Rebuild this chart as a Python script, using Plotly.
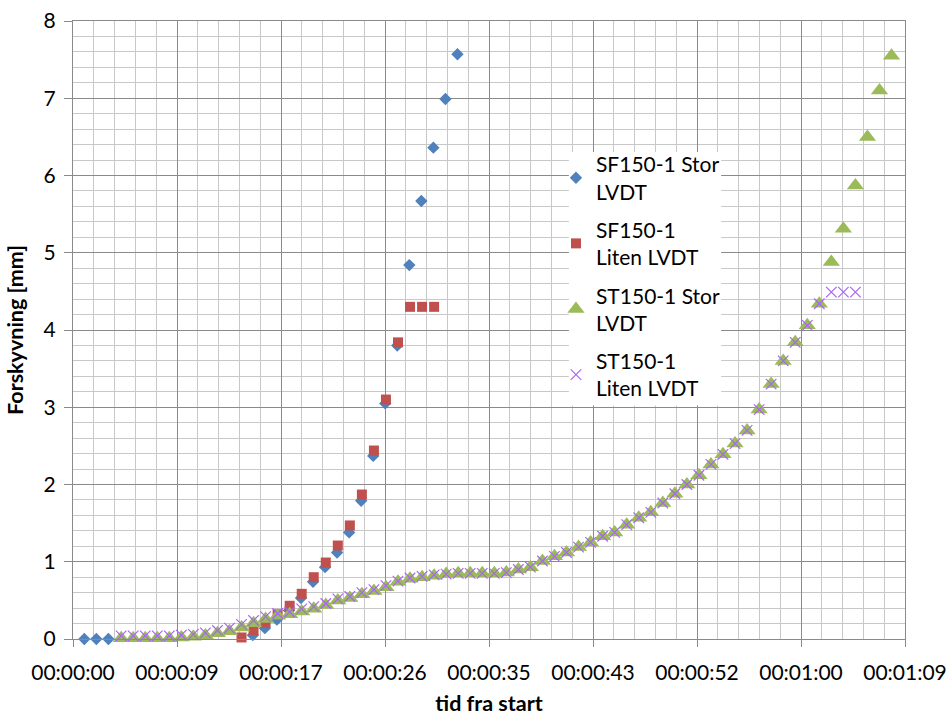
import plotly.graph_objects as go

# ---- data (time in seconds, displacement in mm) ----
sf_stor_t = [0.94, 1.94, 2.94, 3.94, 4.94, 5.94, 6.94, 7.94, 8.94, 9.94, 10.94, 11.94,
             12.94, 13.94, 14.94, 15.94, 16.94, 17.94, 18.94, 19.94, 20.94, 21.94,
             22.94, 23.94, 24.94, 25.94, 26.94, 27.94, 28.94, 29.94, 30.94, 31.94]
sf_stor_v = [0.00, 0.00, 0.00, -0.01, -0.02, -0.03, -0.04, -0.05, -0.06, -0.06, -0.05, -0.04,
             -0.03, -0.01, 0.05, 0.14, 0.25, 0.37, 0.53, 0.74, 0.93, 1.12,
             1.38, 1.79, 2.37, 3.05, 3.80, 4.84, 5.67, 6.36, 6.99, 7.57]

sf_liten_t = [13, 14, 15, 16, 17, 18, 19, 20, 21, 22, 23, 24, 25, 26, 27, 28, 29, 30]
sf_liten_v = [-0.03, 0.02, 0.11, 0.21, 0.32, 0.43, 0.585, 0.80, 0.99, 1.21, 1.47, 1.87,
              2.44, 3.10, 3.84, 4.30, 4.30, 4.30]

st_stor_t = [4, 5, 6, 7, 8, 9, 10, 11, 12, 13, 14, 15, 16, 17, 18, 19, 20, 21, 22, 23,
             24, 25, 26, 27, 28, 29, 30, 31, 32, 33, 34, 35, 36, 37, 38, 39, 40, 41, 42,
             43, 44, 45, 46, 47, 48, 49, 50, 51, 52, 53, 54, 55, 56, 57, 58, 59, 60, 61,
             62, 63, 64, 65, 66, 67, 68]
st_stor_v = [0.01, 0.01, 0.01, 0.01, 0.01, 0.02, 0.03, 0.045, 0.075, 0.10, 0.15, 0.205,
             0.26, 0.30, 0.32, 0.355, 0.39, 0.44, 0.50, 0.53, 0.58, 0.62, 0.67, 0.74,
             0.78, 0.80, 0.82, 0.84, 0.85, 0.85, 0.85, 0.85, 0.86, 0.90, 0.93, 1.01,
             1.07, 1.12, 1.19, 1.25, 1.33, 1.38, 1.48, 1.57, 1.64, 1.76, 1.88, 2.00,
             2.12, 2.26, 2.39, 2.53, 2.70, 2.97, 3.30, 3.60, 3.84, 4.06, 4.34, 4.88,
             5.31, 5.87, 6.50, 7.10, 7.55]

st_liten_t = [4, 5, 6, 7, 8, 9, 10, 11, 12, 13, 14, 15, 16, 17, 18, 19, 20, 21, 22, 23,
              24, 25, 26, 27, 28, 29, 30, 31, 32, 33, 34, 35, 36, 37, 38, 39, 40, 41, 42,
              43, 44, 45, 46, 47, 48, 49, 50, 51, 52, 53, 54, 55, 56, 57, 58, 59, 60, 61,
              62, 63, 64, 65]
st_liten_v = [0.04, 0.04, 0.04, 0.04, 0.04, 0.05, 0.06, 0.08, 0.11, 0.14, 0.19, 0.24,
              0.29, 0.33, 0.35, 0.39, 0.42, 0.46, 0.52, 0.55, 0.60, 0.64, 0.69, 0.75,
              0.79, 0.81, 0.83, 0.84, 0.85, 0.85, 0.85, 0.85, 0.86, 0.90, 0.93, 1.01,
              1.07, 1.12, 1.19, 1.25, 1.33, 1.38, 1.48, 1.57, 1.64, 1.76, 1.88, 2.00,
              2.12, 2.26, 2.39, 2.53, 2.70, 2.97, 3.30, 3.60, 3.84, 4.06, 4.34, 4.49,
              4.49, 4.49]

series_names = ["SF150-1 Stor<br>LVDT", "SF150-1<br>Liten LVDT",
                "ST150-1 Stor<br>LVDT", "ST150-1<br>Liten LVDT"]

x_tick_labels = ["00:00:00", "00:00:09", "00:00:17", "00:00:26", "00:00:35",
                 "00:00:43", "00:00:52", "00:01:00", "00:01:09"]
y_tick_labels = ["0", "1", "2", "3", "4", "5", "6", "7", "8"]

x_title = "tid fra start"
y_title = "Forskyvning [mm]"

# ---- layout constants ----
X_MAJOR = 8.64          # seconds (0.0001 day, Excel time axis)
X_MINOR = X_MAJOR / 5
FONT = "Lato"
MAJOR_GRID = "#8a8a8a"
MINOR_GRID = "#c8c8c8"

fig = go.Figure()

fig.add_trace(go.Scatter(
    x=sf_stor_t, y=sf_stor_v, mode="markers", name=series_names[0],
    marker=dict(symbol="diamond", size=9.5, color="#4F81BD"),
    cliponaxis=False, legendgroup="a"))
fig.add_trace(go.Scatter(
    x=sf_liten_t, y=sf_liten_v, mode="markers", name=series_names[1],
    marker=dict(symbol="square", size=10, color="#C0504D"),
    cliponaxis=False, legendgroup="b"))
fig.add_trace(go.Scatter(
    x=st_stor_t, y=st_stor_v, mode="markers", name=series_names[2],
    marker=dict(symbol="triangle-up", size=15, color="#9BBB59"),
    cliponaxis=False, legendgroup="c"))
fig.add_trace(go.Scatter(
    x=st_liten_t, y=st_liten_v, mode="markers", name=series_names[3],
    marker=dict(symbol="x-thin-open", size=10.5,
                line=dict(color="#9F90BF", width=1.2)),
    cliponaxis=False, legendgroup="d"))

tickvals_x = [i * X_MAJOR for i in range(len(x_tick_labels))]
tickvals_y = [float(v) for v in y_tick_labels]

fig.update_layout(
    width=950, height=716,
    margin=dict(l=73, r=45, t=21, b=77),
    paper_bgcolor="white", plot_bgcolor="white",
    font=dict(family=FONT, size=21, color="black"),
    showlegend=True,
    legend=dict(
        x=0.5805, y=0.801, xanchor="left", yanchor="top",
        bgcolor="rgba(0,0,0,0)", borderwidth=0,
        font=dict(family=FONT, size=21, color="black"),
        tracegroupgap=8, itemwidth=30,
    ),
    shapes=[dict(type="rect", xref="paper", yref="paper",
                 x0=0.596, x1=0.779, y0=0.378, y1=0.788,
                 fillcolor="white", line=dict(width=0), layer="above")],
)

fig.update_xaxes(
    range=[0, X_MAJOR * 8], automargin=False,
    tickmode="array", tickvals=tickvals_x, ticktext=x_tick_labels,
    showgrid=True, gridcolor=MAJOR_GRID, gridwidth=1,
    minor=dict(tick0=0, dtick=X_MINOR, showgrid=True, gridcolor=MINOR_GRID, gridwidth=1),
    showline=True, linecolor=MAJOR_GRID, linewidth=1, mirror=True,
    ticks="outside", ticklen=7, tickcolor=MAJOR_GRID,
    ticklabelstandoff=8,
    zeroline=False,
    tickfont=dict(family=FONT, size=21, color="black"),
    title=dict(text=x_title, font=dict(family=FONT, size=21.5, color="black", weight="bold"),
               standoff=14),
)
fig.update_yaxes(
    range=[0, 8], automargin=False,
    tickmode="array", tickvals=tickvals_y, ticktext=y_tick_labels,
    showgrid=True, gridcolor=MAJOR_GRID, gridwidth=1,
    minor=dict(tick0=0, dtick=0.2, showgrid=True, gridcolor=MINOR_GRID, gridwidth=1),
    showline=True, linecolor=MAJOR_GRID, linewidth=1, mirror=True,
    ticks="outside", ticklen=8, tickcolor=MAJOR_GRID,
    ticklabelstandoff=4,
    zeroline=False,
    tickfont=dict(family=FONT, size=21, color="black"),
    title=dict(text=y_title, font=dict(family=FONT, size=21.5, color="black", weight="bold"),
               standoff=14),
)

fig.write_html("out.html")
